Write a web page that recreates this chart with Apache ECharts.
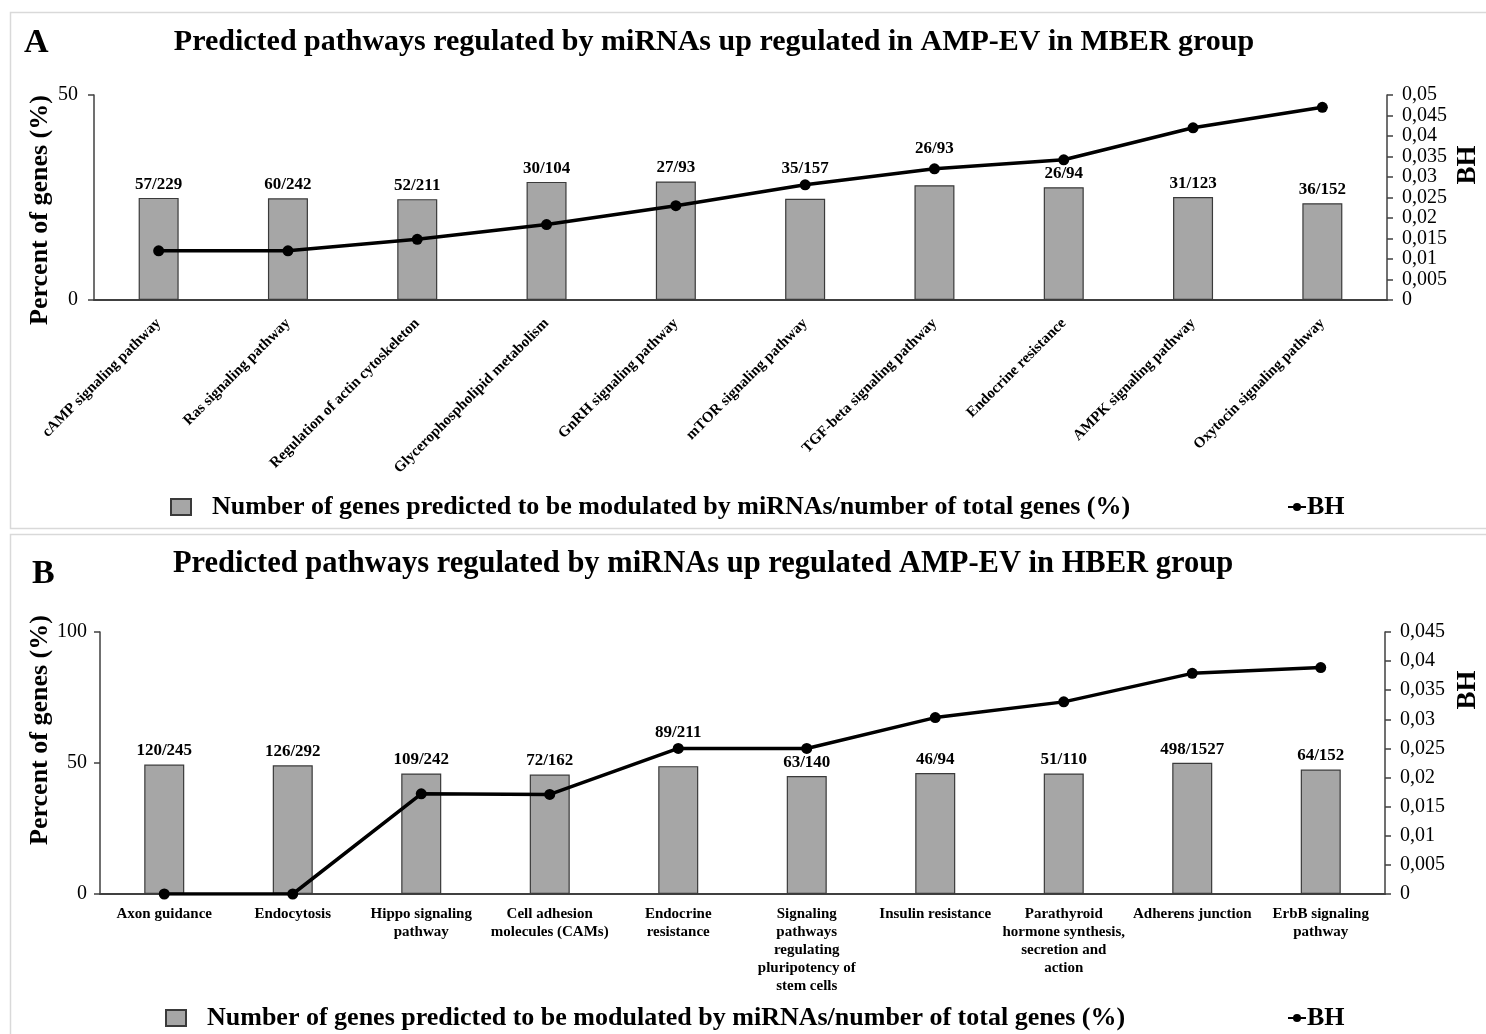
<!DOCTYPE html>
<html>
<head>
<meta charset="utf-8">
<script src="https://cdn.jsdelivr.net/npm/echarts@6/dist/echarts.min.js"></script>
<style>
html,body{margin:0;padding:0;background:#fff;}
#c{width:1486px;height:1034px;}
</style>
</head>
<body>
<div id="c"></div>
<script>
// Panel A data
var catsA = ['cAMP signaling pathway','Ras signaling pathway','Regulation of actin cytoskeleton','Glycerophospholipid metabolism','GnRH signaling pathway','mTOR signaling pathway','TGF-beta signaling pathway','Endocrine resistance','AMPK signaling pathway','Oxytocin signaling pathway'];
var pctA = [24.9, 24.8, 24.6, 28.8, 28.9, 24.7, 28.0, 27.5, 25.1, 23.6];
var ratioA = ['57/229','60/242','52/211','30/104','27/93','35/157','26/93','26/94','31/123','36/152'];
var bhA = [0.012, 0.012, 0.0148, 0.0184, 0.0230, 0.0281, 0.0320, 0.0342, 0.0420, 0.0470];

// Panel B data
var catsB = ['Axon guidance','Endocytosis','Hippo signaling\npathway','Cell adhesion\nmolecules (CAMs)','Endocrine\nresistance','Signaling\npathways\nregulating\npluripotency of\nstem cells','Insulin resistance','Parathyroid\nhormone synthesis,\nsecretion and\naction','Adherens junction','ErbB signaling\npathway'];
var pctB = [49.4, 49.1, 46.0, 45.6, 48.8, 45.0, 46.2, 46.0, 50.1, 47.5];
var ratioB = ['120/245','126/292','109/242','72/162','89/211','63/140','46/94','51/110','498/1527','64/152'];
var bhB = [0, 0, 0.0172, 0.0171, 0.025, 0.025, 0.0303, 0.0330, 0.0379, 0.0389];

var titleA = 'Predicted pathways regulated by miRNAs up regulated in AMP-EV in MBER group';
var titleB = 'Predicted pathways regulated by miRNAs up regulated AMP-EV in HBER group';
var barName = 'Number of genes predicted to be modulated by miRNAs/number of total genes (%)';
var lineName = 'BH';

var F = '"Liberation Serif", "Times New Roman", serif';
function commaFmt(v){
  var s = (+v.toFixed(4)).toString();
  return s.replace('.', ',');
}
// labels lifted above the BH line where they would collide (as in the source figure)
var liftA = {5: 22, 6: 28};
var liftB = {4: 25};
function barData(vals, lift){
  return vals.map(function(v, i){
    var d = {value: v};
    if (lift[i] != null) d.label = {distance: lift[i]};
    return d;
  });
}

var chart = echarts.init(document.getElementById('c'));
var axisLineStyle = {color:'#404040', width:1.5};
var legendText = {fontFamily:F, fontSize:26, fontWeight:'bold', color:'#000'};
var option = {
  backgroundColor:'#fff',
  textStyle:{fontFamily:F},
  animation:false,
  graphic:[
    {type:'rect', shape:{x:10.5,y:12.5,width:1490,height:516}, style:{fill:'none', stroke:'#d9d9d9', lineWidth:1.5}},
    {type:'rect', shape:{x:10.5,y:534.5,width:1490,height:520}, style:{fill:'none', stroke:'#d9d9d9', lineWidth:1.5}},
    {type:'text', left:24, top:26, style:{text:'A', font:'bold 34px '+F, fill:'#000'}},
    {type:'text', left:32, top:557, style:{text:'B', font:'bold 34px '+F, fill:'#000'}},
    {type:'text', x:40, y:210, rotation:Math.PI/2, style:{text:'Percent of genes (%)', font:'bold 26px '+F, fill:'#000', align:'center', verticalAlign:'middle'}},
    {type:'text', x:40, y:730, rotation:Math.PI/2, style:{text:'Percent of genes (%)', font:'bold 26px '+F, fill:'#000', align:'center', verticalAlign:'middle'}},
    {type:'text', x:1468, y:165, rotation:Math.PI/2, style:{text:'BH', font:'bold 27px '+F, fill:'#000', align:'center', verticalAlign:'middle'}},
    {type:'text', x:1468, y:690, rotation:Math.PI/2, style:{text:'BH', font:'bold 27px '+F, fill:'#000', align:'center', verticalAlign:'middle'}}
  ],
  title:[
    {text:titleA, left:709, top:22, textAlign:'center', textStyle:{fontFamily:F, fontSize:30, fontWeight:'bold', color:'#000'}},
    {text:titleB, left:698, top:544, textAlign:'center', textStyle:{fontFamily:F, fontSize:30.5, fontWeight:'bold', color:'#000'}}
  ],
  legend:[
    {data:[{name:barName, icon:'rect'}], left:165, top:489, itemWidth:20, itemHeight:16, textStyle:Object.assign({padding:[0,0,0,16]}, legendText)},
    {data:[lineName], left:1282, top:489, itemWidth:18, itemHeight:10, textStyle:Object.assign({padding:[0,0,0,-4]}, legendText)},
    {data:[{name:barName, icon:'rect'}], left:160, top:1000, itemWidth:20, itemHeight:16, textStyle:Object.assign({padding:[0,0,0,16]}, legendText)},
    {data:[lineName], left:1282, top:1000, itemWidth:18, itemHeight:10, textStyle:Object.assign({padding:[0,0,0,-4]}, legendText)}
  ],
  grid:[
    {left:94, right:99, top:95, height:205},
    {left:100, right:101, top:632, height:262}
  ],
  xAxis:[
    {type:'category', gridIndex:0, data:catsA, axisLine:{lineStyle:{color:'#404040', width:2}}, axisTick:{show:false},
     axisLabel:{interval:0, rotate:45, margin:21, fontFamily:F, fontSize:15, fontWeight:'bold', color:'#000'}},
    {type:'category', gridIndex:1, data:catsB, axisLine:{lineStyle:{color:'#404040', width:2}}, axisTick:{show:false},
     axisLabel:{interval:0, margin:11, lineHeight:18, fontFamily:F, fontSize:15, fontWeight:'bold', color:'#000', align:'center'}}
  ],
  yAxis:[
    {type:'value', gridIndex:0, min:0, max:50, interval:50, splitLine:{show:false},
     axisLine:{show:true, lineStyle:axisLineStyle}, axisTick:{show:true, length:6, lineStyle:axisLineStyle},
     axisLabel:{fontFamily:F, fontSize:20, color:'#000', margin:16}},
    {type:'value', gridIndex:0, position:'right', min:0, max:0.05, interval:0.005, splitLine:{show:false},
     axisLine:{show:true, lineStyle:axisLineStyle}, axisTick:{show:true, length:6, lineStyle:axisLineStyle},
     axisLabel:{fontFamily:F, fontSize:20, color:'#000', margin:15, formatter:commaFmt}},
    {type:'value', gridIndex:1, min:0, max:100, interval:50, splitLine:{show:false},
     axisLine:{show:true, lineStyle:axisLineStyle}, axisTick:{show:true, length:6, lineStyle:axisLineStyle},
     axisLabel:{fontFamily:F, fontSize:20, color:'#000', margin:13}},
    {type:'value', gridIndex:1, position:'right', min:0, max:0.045, interval:0.005, splitLine:{show:false},
     axisLine:{show:true, lineStyle:axisLineStyle}, axisTick:{show:true, length:6, lineStyle:axisLineStyle},
     axisLabel:{fontFamily:F, fontSize:20, color:'#000', margin:15, formatter:commaFmt}}
  ],
  series:[
    {name:barName, type:'bar', xAxisIndex:0, yAxisIndex:0, data:barData(pctA, liftA), barWidth:40,
     itemStyle:{color:'#a6a6a6', borderColor:'#3a3a3a', borderWidth:1.2},
     label:{show:true, position:'top', distance:5, fontFamily:F, fontSize:17, fontWeight:'bold', color:'#000',
       formatter:function(p){return ratioA[p.dataIndex];}}},
    {name:lineName, type:'line', xAxisIndex:0, yAxisIndex:1, data:bhA, symbol:'circle', symbolSize:11, z:5,
     lineStyle:{color:'#000', width:3.5}, itemStyle:{color:'#000'}},
    {name:barName, type:'bar', xAxisIndex:1, yAxisIndex:2, data:barData(pctB, liftB), barWidth:40,
     itemStyle:{color:'#a6a6a6', borderColor:'#3a3a3a', borderWidth:1.2},
     label:{show:true, position:'top', distance:5, fontFamily:F, fontSize:17, fontWeight:'bold', color:'#000',
       formatter:function(p){return ratioB[p.dataIndex];}}},
    {name:lineName, type:'line', xAxisIndex:1, yAxisIndex:3, data:bhB, symbol:'circle', symbolSize:11, z:5,
     lineStyle:{color:'#000', width:3.5}, itemStyle:{color:'#000'}}
  ]
};
chart.setOption(option);
</script>
</body>
</html>
